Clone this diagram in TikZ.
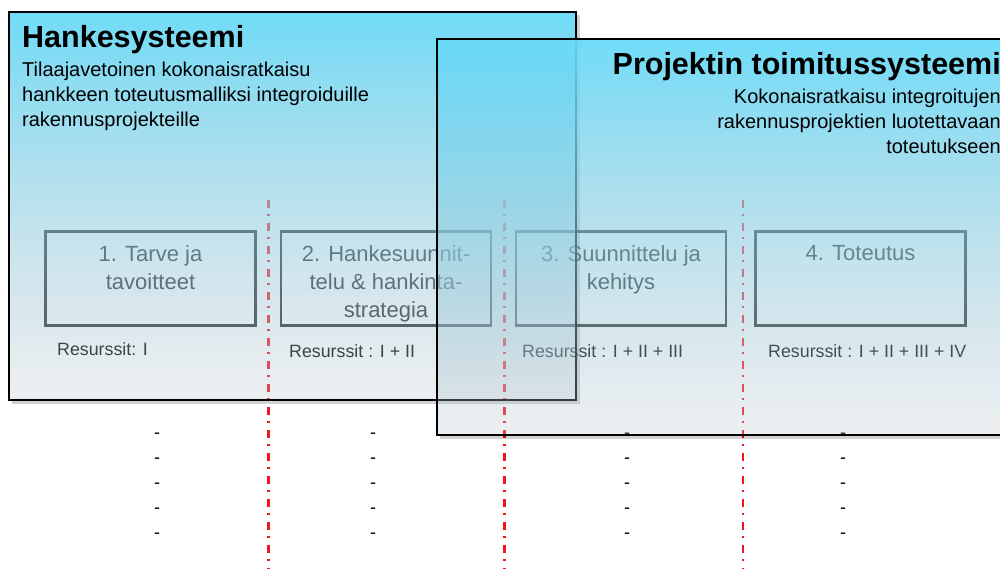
\documentclass[tikz,border=0pt]{standalone}
\usepackage{fontspec}
\setmainfont{Liberation Sans}
\definecolor{sysTop}{RGB}{104,218,248}
\definecolor{sysBot}{RGB}{183,195,203}
\definecolor{phaseRed}{RGB}{248,20,30}
\definecolor{phaseInk}{RGB}{38,38,38}
\begin{document}
\begin{tikzpicture}[x=1pt,y=-1pt,
  phasebox/.style={draw=phaseInk, line width=2.8pt, rectangle, inner sep=0pt, outer sep=0pt, minimum width=210pt, minimum height=94pt},
  phasetext/.style={text=phaseInk, font=\fontsize{22}{28}\selectfont, align=center, inner sep=0pt, anchor=north},
  restext/.style={text=black, font=\fontsize{17.8}{20}\selectfont, inner sep=0pt, anchor=base west},
  sysbox/.style={draw=black, line width=2.5pt},
  sysshadow/.style={draw=black, opacity=0.18, line width=3pt},
  redline/.style={draw=phaseRed, line width=2.3pt, dash pattern=on 8pt off 6pt on 2pt off 7pt},
  dashmark/.style={font=\fontsize{18}{18}\selectfont, inner sep=0pt, text=black, anchor=base},
  titletext/.style={font=\fontsize{30.5}{36}\selectfont\bfseries, inner sep=0pt},
  subtext/.style={font=\fontsize{20}{25}\selectfont, inner sep=0pt}
]
\useasboundingbox (0,0) rectangle (1000,569);
\clip (0,0) rectangle (1000,569);
\fill[white] (0,0) rectangle (1000,569);

% phase boxes
\node[phasebox] (b1) at (150.5,278.5) {};
\node[phasebox] (b2) at (386,278.5) {};
\node[phasebox] (b3) at (621,278.5) {};
\node[phasebox] (b4) at (860.5,278.5) {};
\node[phasetext] (t1) at ([yshift=-13.8pt]b1.north) {1. Tarve ja\\tavoitteet};
\node[phasetext] (t2) at ([yshift=-13.8pt]b2.north) {2. Hankesuunnit-\\telu \& hankinta-\\strategia};
\node[phasetext] (t3) at ([yshift=-13.8pt]b3.north) {3. Suunnittelu ja\\kehitys};
\node[phasetext] (t4) at ([yshift=-13.8pt]b4.north) {4. Toteutus};

% resources
\node[restext] (r1) at (57,355) {Resurssit: I};
\node[restext] (r2) at (289,357) {Resurssit : I + II};
\node[restext] (r3) at (522,357) {Resurssit : I + II + III};
\node[restext] (r4) at (768,357) {Resurssit : I + II + III + IV};

% red separators
\coordinate (s1a) at (268.5,200); \coordinate (s1b) at (268.5,569);
\coordinate (s2a) at (504.5,200); \coordinate (s2b) at (504.5,569);
\coordinate (s3a) at (743,200);   \coordinate (s3b) at (743,569);
\draw[redline] (s1a) -- (s1b);
\draw[redline] (s2a) -- (s2b);
\draw[redline] (s3a) -- (s3b);

% dash marks
\foreach \c/\x in {1/157,2/373,3/627,4/843}{
  \foreach \r/\y in {1/433,2/458,3/483,4/508,5/533}{
    \node[dashmark] (d\c\r) at (\x,\y+5) {-};
  }
}

% left system box (vertical colour + opacity gradient in strips)
\draw[sysshadow] (12,402.5) -- (578.5,402.5) -- (578.5,15);
\foreach \i in {0,...,96}{
  \pgfmathsetmacro\stT{(\i+0.5)/97}
  \pgfmathsetmacro\stP{100*\stT}
  \pgfmathsetmacro\stA{0.95-0.7*\stT}
  \fill[sysBot!\stP!sysTop, fill opacity=\stA] (9,12+4*\i) rectangle (576,16+4*\i);
}
\draw[sysbox] (9,12) rectangle (576,400);

% right system box
\draw[sysshadow] (440,437.5) -- (1010,437.5);
\foreach \i in {0,...,98}{
  \pgfmathsetmacro\stT{(\i+0.5)/99}
  \pgfmathsetmacro\stP{100*\stT}
  \pgfmathsetmacro\stA{0.95-0.7*\stT}
  \fill[sysBot!\stP!sysTop, fill opacity=\stA] (437,39+4*\i) rectangle (1010,43+4*\i);
}
\draw[sysbox] (437,39) rectangle (1010,435);

% titles
\node[titletext, anchor=base west] (h1) at (22,48) {Hankesysteemi};
\node[subtext, anchor=north west, align=left] (h1s) at (22,61.7) {Tilaajavetoinen kokonaisratkaisu\\hankkeen toteutusmalliksi integroiduille\\rakennusprojekteille};
\node[titletext, anchor=base east] (h2) at (1001,75) {Projektin toimitussysteemi};
\node[subtext, anchor=north east, align=right] (h2s) at (1001,88.7) {Kokonaisratkaisu integroitujen\\rakennusprojektien luotettavaan\\toteutukseen};
\end{tikzpicture}
\end{document}
